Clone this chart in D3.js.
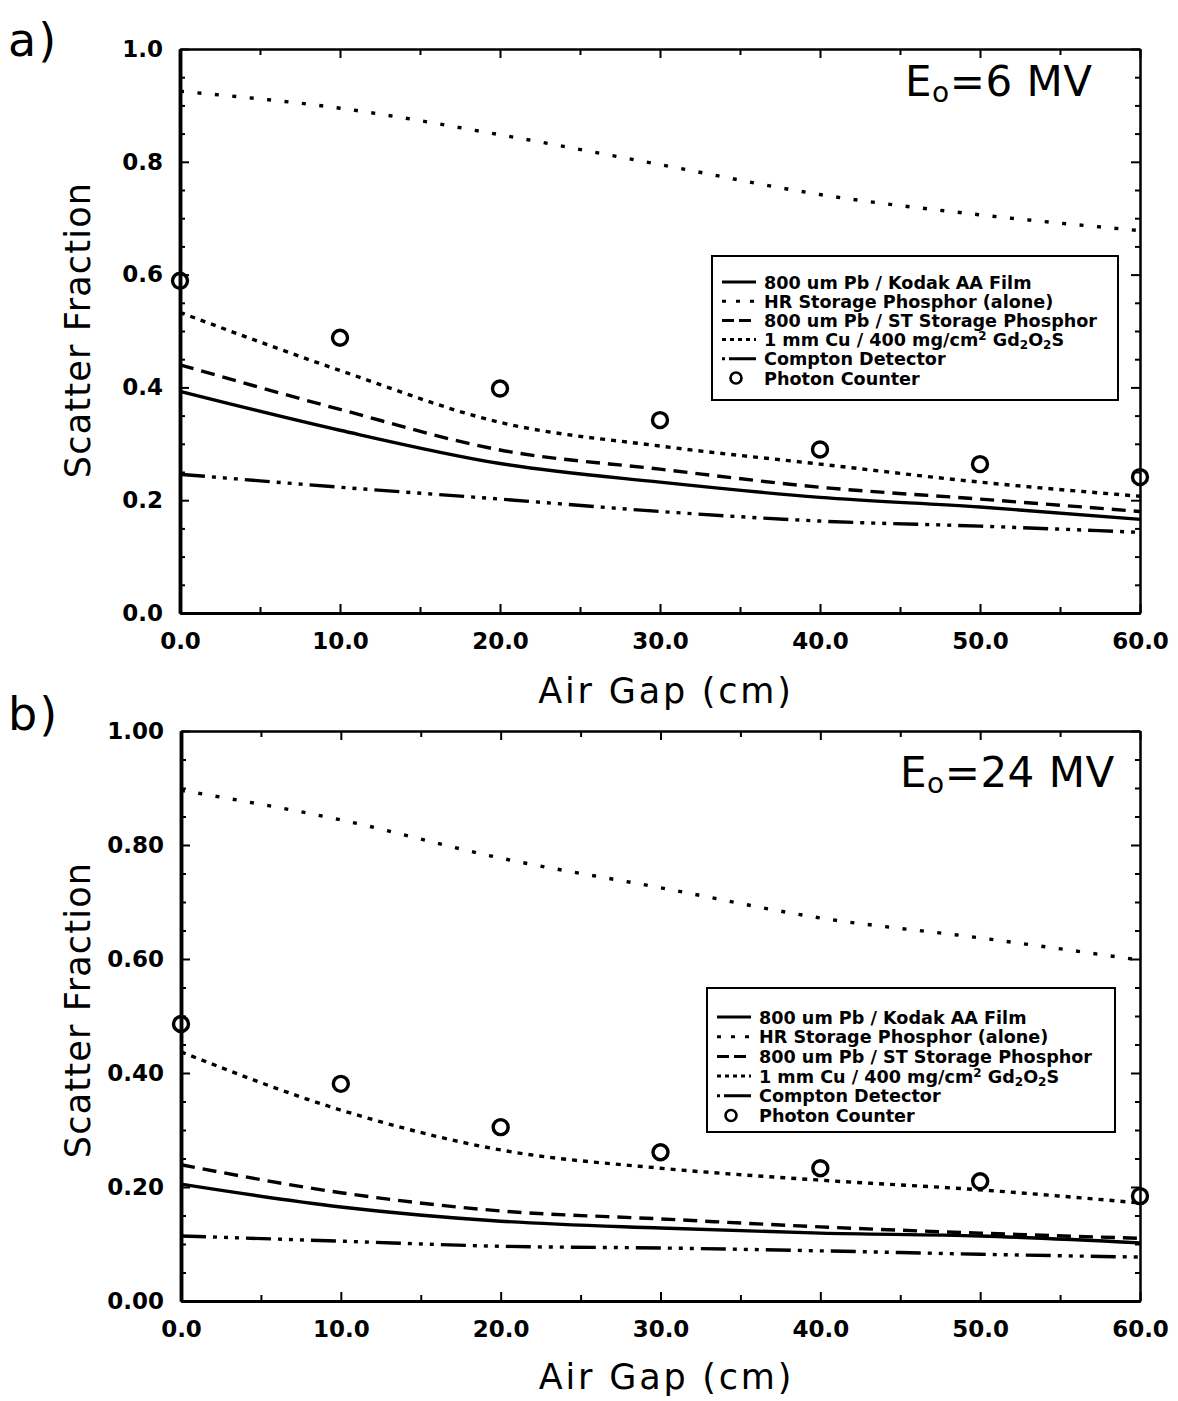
<!DOCTYPE html>
<html>
<head>
<meta charset="utf-8">
<script src="https://cdn.jsdelivr.net/npm/d3@7"></script>
<style>
  html, body { margin: 0; padding: 0; background: #fff; }
  svg { display: block; }
  .tick text { font-family: "DejaVu Sans", sans-serif; font-weight: bold; font-size: 23px; fill: #000; }
</style>
</head>
<body>
<svg id="chart" width="1178" height="1401"></svg>
<script>
// Air gap positions (cm) at which each curve is sampled
const airGap = [0, 10, 20, 30, 40, 50, 60];

// Legend entries, in drawing order
const seriesNames = [
  "800 um Pb / Kodak AA Film",
  "HR Storage Phosphor (alone)",
  "800 um Pb / ST Storage Phosphor",
  "1 mm Cu / 400 mg/cm² Gd₂O₂S",
  "Compton Detector",
  "Photon Counter"
];

// Panel a) E0 = 6 MV
const a_kodakFilm   = [0.393, 0.324, 0.265, 0.232, 0.205, 0.188, 0.166];
const a_hrPhosphor  = [0.925, 0.895, 0.848, 0.795, 0.742, 0.706, 0.678];
const a_stPhosphor  = [0.440, 0.361, 0.289, 0.255, 0.223, 0.202, 0.180];
const a_cuGdos      = [0.533, 0.430, 0.338, 0.296, 0.264, 0.232, 0.207];
const a_compton     = [0.246, 0.223, 0.202, 0.180, 0.163, 0.154, 0.143];
const a_photonCount = [0.589, 0.488, 0.398, 0.342, 0.290, 0.264, 0.241];

// Panel b) E0 = 24 MV
const b_kodakFilm   = [0.205, 0.165, 0.140, 0.128, 0.119, 0.114, 0.102];
const b_hrPhosphor  = [0.896, 0.844, 0.777, 0.725, 0.672, 0.637, 0.598];
const b_stPhosphor  = [0.239, 0.190, 0.158, 0.144, 0.130, 0.119, 0.110];
const b_cuGdos      = [0.437, 0.335, 0.265, 0.233, 0.212, 0.195, 0.172];
const b_compton     = [0.114, 0.105, 0.096, 0.093, 0.088, 0.082, 0.077];
const b_photonCount = [0.486, 0.381, 0.305, 0.261, 0.233, 0.210, 0.184];

// Tick values
const xTicks = [0, 10, 20, 30, 40, 50, 60];
const xMinorTicks = [5, 15, 25, 35, 45, 55];
const yTicks = [0, 0.2, 0.4, 0.6, 0.8, 1.0];
const yMinorTicks = [0.05, 0.1, 0.15, 0.25, 0.3, 0.35, 0.45, 0.5, 0.55, 0.65, 0.7, 0.75, 0.85, 0.9, 0.95];

// Line dash patterns for the five model curves
const dashes = [null, "4 13.5", "14 8", "5 6", "25 7 4 7 4 7 4 7"];
const legendDashes = [null, "4 10", "12 5", "4 4", "3 4 30"];

const panels = [
  { tag: "a)", tagY: 56, energy: "6 MV", eX: 905, eY: 96,
    box: { l: 180, r: 1140, t: 49, b: 613 }, yFmt: d3.format(".1f"),
    curves: [a_kodakFilm, a_hrPhosphor, a_stPhosphor, a_cuGdos, a_compton], points: a_photonCount,
    legend: { l: 712, t: 256, r: 1118, b: 400, row0: 282, dy: 19.2 },
    xTitleY: 703, yTitleY: 330 },
  { tag: "b)", tagY: 730, energy: "24 MV", eX: 900, eY: 787,
    box: { l: 181, r: 1140, t: 731, b: 1301 }, yFmt: d3.format(".2f"),
    curves: [b_kodakFilm, b_hrPhosphor, b_stPhosphor, b_cuGdos, b_compton], points: b_photonCount,
    legend: { l: 707, t: 988, r: 1115, b: 1132, row0: 1017, dy: 19.7 },
    xTitleY: 1389, yTitleY: 1010 }
];

const svg = d3.select("#chart");
const font = '"DejaVu Sans", sans-serif';

panels.forEach(p => {
  const g = svg.append("g");
  const x = d3.scaleLinear().domain([0, 60]).range([p.box.l, p.box.r]);
  const y = d3.scaleLinear().domain([0, 1]).range([p.box.b, p.box.t]);

  // Frame: heavier left/bottom spines, lighter top/right
  const styleAxis = (sel, w) => {
    sel.select(".domain").attr("stroke", "#000").attr("stroke-width", w);
    sel.selectAll(".tick line").attr("stroke", "#000").attr("stroke-width", 2);
  };

  // Minor ticks (inward, unlabeled)
  g.append("g").attr("transform", `translate(0,${p.box.b})`)
    .call(d3.axisBottom(x).tickValues(xMinorTicks).tickSizeInner(-6).tickSizeOuter(0).tickFormat(""))
    .call(s => styleAxis(s, 3));
  g.append("g").attr("transform", `translate(0,${p.box.t})`)
    .call(d3.axisTop(x).tickValues(xMinorTicks).tickSizeInner(-6).tickSizeOuter(0).tickFormat(""))
    .call(s => styleAxis(s, 2));
  g.append("g").attr("transform", `translate(${p.box.l},0)`)
    .call(d3.axisLeft(y).tickValues(yMinorTicks).tickSizeInner(-5).tickSizeOuter(0).tickFormat(""))
    .call(s => styleAxis(s, 3.5));
  g.append("g").attr("transform", `translate(${p.box.r},0)`)
    .call(d3.axisRight(y).tickValues(yMinorTicks).tickSizeInner(-5).tickSizeOuter(0).tickFormat(""))
    .call(s => styleAxis(s, 2));

  // Major ticks with labels
  g.append("g").attr("transform", `translate(0,${p.box.b})`)
    .call(d3.axisBottom(x).tickValues(xTicks).tickSizeInner(-9).tickSizeOuter(0).tickPadding(20).tickFormat(d3.format(".1f")))
    .call(s => styleAxis(s, 3));
  g.append("g").attr("transform", `translate(0,${p.box.t})`)
    .call(d3.axisTop(x).tickValues(xTicks).tickSizeInner(-9).tickSizeOuter(0).tickFormat(""))
    .call(s => styleAxis(s, 2));
  g.append("g").attr("transform", `translate(${p.box.l},0)`)
    .call(d3.axisLeft(y).tickValues(yTicks).tickSizeInner(-9).tickSizeOuter(0).tickPadding(17).tickFormat(p.yFmt))
    .call(s => styleAxis(s, 3.5));
  g.append("g").attr("transform", `translate(${p.box.r},0)`)
    .call(d3.axisRight(y).tickValues(yTicks).tickSizeInner(-9).tickSizeOuter(0).tickFormat(""))
    .call(s => styleAxis(s, 2));

  // Model curves
  const line = d3.line().x((d, i) => x(airGap[i])).y(d => y(d)).curve(d3.curveMonotoneX);
  p.curves.forEach((vals, k) => {
    g.append("path").datum(vals)
      .attr("d", line)
      .attr("fill", "none")
      .attr("stroke", "#000")
      .attr("stroke-width", 3.4)
      .attr("stroke-dasharray", dashes[k]);
  });

  // Photon counter measurements
  g.selectAll("circle.pc").data(p.points).join("circle")
    .attr("class", "pc")
    .attr("cx", (d, i) => x(airGap[i]))
    .attr("cy", d => y(d))
    .attr("r", 7.5)
    .attr("fill", "none")
    .attr("stroke", "#000")
    .attr("stroke-width", 3.4);

  // Legend
  const L = p.legend;
  g.append("rect").attr("x", L.l).attr("y", L.t).attr("width", L.r - L.l).attr("height", L.b - L.t)
    .attr("fill", "#fff").attr("stroke", "#000").attr("stroke-width", 2);
  seriesNames.forEach((name, k) => {
    const cy = L.row0 + k * L.dy;
    if (k < 5) {
      g.append("line").attr("x1", L.l + 10).attr("x2", L.l + 44).attr("y1", cy).attr("y2", cy)
        .attr("stroke", "#000").attr("stroke-width", 3)
        .attr("stroke-dasharray", legendDashes[k]);
    } else {
      g.append("circle").attr("cx", L.l + 24).attr("cy", cy).attr("r", 5.5)
        .attr("fill", "none").attr("stroke", "#000").attr("stroke-width", 2.6);
    }
    const t = g.append("text").attr("x", L.l + 52).attr("y", cy + 6.5)
      .attr("font-family", font).attr("font-weight", "bold").attr("font-size", 17.6);
    if (k === 3) {
      t.append("tspan").text("1 mm Cu / 400 mg/cm");
      t.append("tspan").text("2").attr("font-size", 12).attr("dy", -6);
      t.append("tspan").text(" Gd").attr("dy", 6);
      t.append("tspan").text("2").attr("font-size", 12).attr("dy", 3);
      t.append("tspan").text("O").attr("dy", -3);
      t.append("tspan").text("2").attr("font-size", 12).attr("dy", 3);
      t.append("tspan").text("S").attr("dy", -3);
    } else {
      t.text(name);
    }
  });

  // Beam energy label
  const e = g.append("text").attr("x", p.eX).attr("y", p.eY)
    .attr("font-family", font).attr("font-size", 42).attr("letter-spacing", 0.5);
  e.append("tspan").text("E");
  e.append("tspan").text("o").attr("font-size", 28).attr("dy", 6);
  e.append("tspan").text("=" + p.energy).attr("dy", -6);

  // Panel tag
  g.append("text").attr("x", 8).attr("y", p.tagY)
    .attr("font-family", font).attr("font-size", 46).attr("letter-spacing", 2).text(p.tag);

  // Axis titles
  g.append("text").attr("x", (p.box.l + p.box.r) / 2 + 6).attr("y", p.xTitleY)
    .attr("text-anchor", "middle").attr("font-family", font).attr("font-size", 35)
    .attr("letter-spacing", 2.8).text("Air Gap (cm)");
  g.append("text").attr("transform", `translate(90,${p.yTitleY}) rotate(-90)`)
    .attr("text-anchor", "middle").attr("font-family", font).attr("font-size", 35)
    .attr("letter-spacing", 1.2).text("Scatter Fraction");
});
</script>
</body>
</html>
